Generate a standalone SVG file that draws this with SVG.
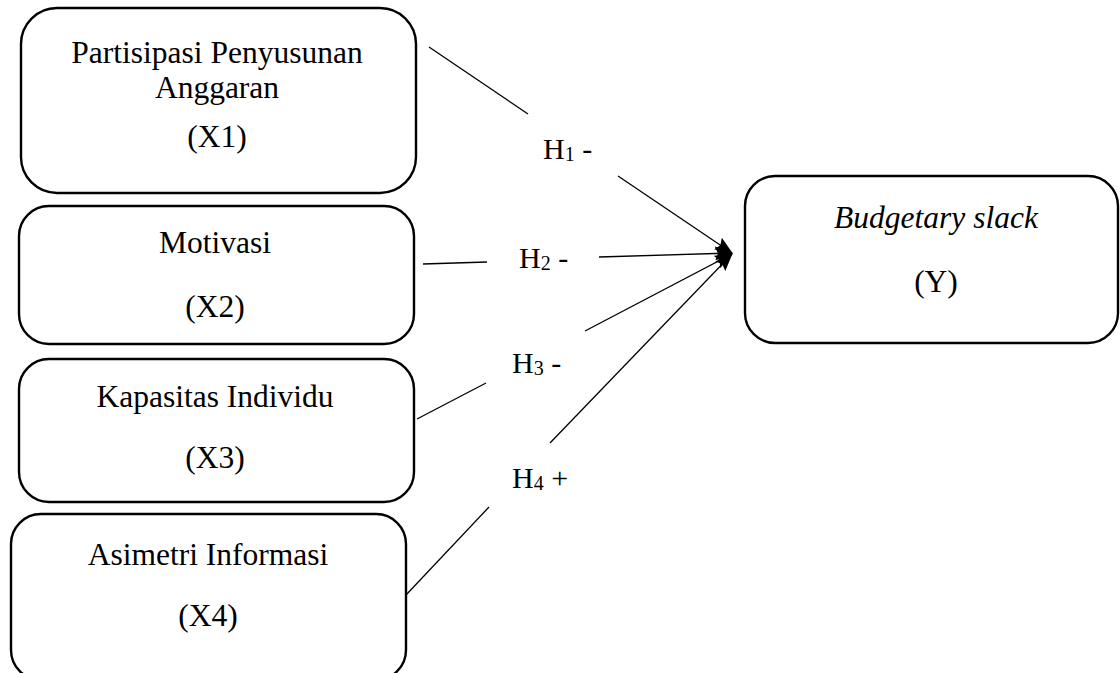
<svg xmlns="http://www.w3.org/2000/svg" width="1120" height="673" viewBox="0 0 1120 673">
<style>
.box{fill:#fff;stroke:#000;stroke-width:2.4}
.t{font-family:"Liberation Serif","Times New Roman",serif;font-size:31.5px;fill:#000;text-anchor:middle}
.h{font-family:"Liberation Serif","Times New Roman",serif;font-size:30px;fill:#000}
.sub{font-size:20px}
.c{stroke:#000;stroke-width:1.3;fill:none}
</style>
<defs>
<marker id="ah" viewBox="0 0 18 14" refX="17" refY="7" markerWidth="18" markerHeight="14" markerUnits="userSpaceOnUse" orient="auto">
<path d="M0,0 L18,7 L0,14 L3,7 z" fill="#000"/>
</marker>
</defs>
<rect width="1120" height="673" fill="#fff"/>
<g id="x1">
<rect class="box" x="21" y="8" width="395" height="185" rx="36"/>
<text class="t" x="217" y="63">Partisipasi Penyusunan</text>
<text class="t" x="217" y="98">Anggaran</text>
<text class="t" x="217" y="147">(X1)</text>
</g>
<g id="x2">
<rect class="box" x="19" y="206" width="395" height="138" rx="30"/>
<text class="t" x="215" y="253">Motivasi</text>
<text class="t" x="215" y="317">(X2)</text>
</g>
<g id="x3">
<rect class="box" x="19" y="359" width="395" height="143" rx="30"/>
<text class="t" x="215" y="407">Kapasitas Individu</text>
<text class="t" x="215" y="468">(X3)</text>
</g>
<g id="x4">
<rect class="box" x="11" y="514" width="395" height="166" rx="30"/>
<text class="t" x="208" y="565">Asimetri Informasi</text>
<text class="t" x="208" y="626">(X4)</text>
</g>
<g id="y">
<rect class="box" x="745" y="176" width="373" height="167" rx="30"/>
<text class="t" x="936" y="228" font-style="italic">Budgetary slack</text>
<text class="t" x="936" y="292">(Y)</text>
</g>
<g id="connectors">
<line class="c" x1="429" y1="47" x2="528" y2="114"/>
<line class="c" x1="618" y1="176" x2="732" y2="253" marker-end="url(#ah)"/>
<line class="c" x1="423" y1="264" x2="487" y2="262"/>
<line class="c" x1="599" y1="257" x2="732" y2="253" marker-end="url(#ah)"/>
<line class="c" x1="417" y1="419" x2="486" y2="383"/>
<line class="c" x1="585" y1="331" x2="732" y2="254" marker-end="url(#ah)"/>
<line class="c" x1="406" y1="595" x2="489" y2="507"/>
<line class="c" x1="550" y1="443" x2="732" y2="254" marker-end="url(#ah)"/>
</g>
<g id="labels">
<text class="h" x="543" y="159">H<tspan class="sub" dy="1.5">1</tspan><tspan dy="-1.5"> -</tspan></text>
<text class="h" x="519" y="268">H<tspan class="sub" dy="1.5">2</tspan><tspan dy="-1.5"> -</tspan></text>
<text class="h" x="512" y="373">H<tspan class="sub" dy="1.5">3</tspan><tspan dy="-1.5"> -</tspan></text>
<text class="h" x="512" y="488">H<tspan class="sub" dy="1.5">4</tspan><tspan dy="-1.5"> +</tspan></text>
</g>
</svg>
